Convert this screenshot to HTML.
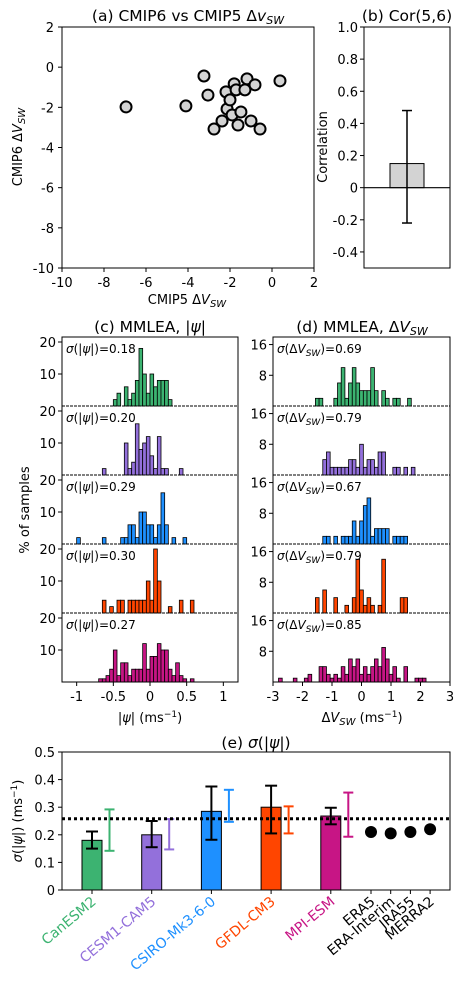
<!DOCTYPE html>
<html><head><meta charset="utf-8"><style>
html,body{margin:0;padding:0;background:#fff;}
svg{display:block;font-family:"DejaVu Sans","Liberation Sans",sans-serif;}
</style></head><body>
<svg id="fig" width="461" height="983" viewBox="0 0 461 983" xmlns="http://www.w3.org/2000/svg"></svg>
<script>
// ---------- DATA ----------
const scatterX = [-6.95,-4.1,-3.24,-3.05,-2.76,-2.38,-2.19,-2.14,-2.0,-1.9,-1.8,-1.71,-1.62,-1.48,-1.29,-1.19,-1.0,-0.81,-0.57,0.38];
const scatterY = [-1.98,-1.93,-0.44,-1.39,-3.08,-2.68,-1.23,-2.08,-1.63,-2.38,-0.83,-1.13,-2.88,-2.23,-1.13,-0.58,-2.68,-0.88,-3.08,-0.68];
const corrValue = 0.15;
const corrErrLow = -0.22;
const corrErrHigh = 0.48;

const modelNames = ["CanESM2","CESM1-CAM5","CSIRO-Mk3-6-0","GFDL-CM3","MPI-ESM"];
const sigmaPsi = [0.18,0.20,0.29,0.30,0.27];
const sigmaDV = [0.69,0.79,0.67,0.79,0.85];
const barValues = [0.18,0.20,0.285,0.30,0.268];
const barErrLow = [0.15,0.155,0.182,0.205,0.238];
const barErrHigh = [0.212,0.25,0.375,0.378,0.298];
const sideErrLow = [0.142,0.147,0.247,0.205,0.193];
const sideErrHigh = [0.292,0.257,0.363,0.303,0.353];
const reanNames = ["ERA5","ERA-Interim","JRA55","MERRA2"];
const reanValues = [0.21,0.205,0.21,0.22];
const refLine = 0.258;

// histograms: centers and percentages
const psiCenters = [
 [-0.475,-0.425,-0.375,-0.325,-0.275,-0.225,-0.175,-0.125,-0.075,-0.025,0.025,0.075,0.125,0.175,0.225,0.275,0.325],
 [-0.625,-0.325,-0.275,-0.225,-0.175,-0.125,-0.075,-0.025,0.025,0.075,0.125,0.175,0.225,0.425],
 [-0.975,-0.625,-0.375,-0.325,-0.275,-0.225,-0.175,-0.125,-0.075,-0.025,0.025,0.075,0.125,0.175,0.225,0.325,0.475],
 [-0.625,-0.525,-0.425,-0.375,-0.275,-0.225,-0.175,-0.125,-0.075,-0.025,0.025,0.075,0.125,0.275,0.425,0.575],
 [-0.675,-0.625,-0.575,-0.525,-0.475,-0.425,-0.375,-0.325,-0.275,-0.225,-0.175,-0.125,-0.075,-0.025,0.025,0.075,0.125,0.175,0.225,0.275,0.325,0.375,0.425,0.475,0.575]
];
const psiPercent = [
 [2,4,0,6,2,4,8,18,10,4,10,6,8,8,8,2,0],
 [2,10,2,4,16,8,10,12,6,2,12,2,2,2],
 [2,2,2,2,6,6,2,10,10,6,6,2,6,16,6,2,2],
 [4,2,4,4,4,4,4,4,4,10,4,20,10,2,4,4],
 [1,1,2,4,10,2,6,6,2,4,4,4,12,4,8,8,12,10,10,4,2,6,2,1,1]
];
const dvCenters = [
 [-1.5,-1.375,-0.875,-0.75,-0.625,-0.5,-0.375,-0.25,-0.125,0,0.125,0.25,0.375,0.5,0.75,0.875,1.125,1.25,1.375,1.625],
 [-1.25,-1.125,-1.0,-0.875,-0.75,-0.625,-0.5,-0.375,-0.25,-0.125,0,0.125,0.25,0.375,0.5,0.625,0.75,1.125,1.25,1.5,1.75],
 [-1.25,-1.125,-0.875,-0.625,-0.5,-0.375,-0.25,-0.125,0,0.125,0.25,0.375,0.5,0.625,0.75,0.875,1.125,1.25,1.375,1.5],
 [-1.5,-1.25,-0.875,-0.5,-0.25,-0.125,0,0.125,0.25,0.375,0.625,0.75,1.375,1.5],
 [-2.75,-2.25,-1.875,-1.75,-1.375,-1.25,-1.125,-1.0,-0.875,-0.75,-0.625,-0.5,-0.375,-0.25,-0.125,0,0.125,0.25,0.375,0.5,0.625,0.75,0.875,1.0,1.125,1.25,1.5,1.875,2.0,2.125]
];
const dvPercent = [
 [2,2,2,6,10,2,6,10,6,4,4,4,10,4,4,2,2,2,0,2],
 [4,6,2,2,2,2,2,4,4,2,8,2,4,4,2,6,6,2,2,2,2],
 [2,2,2,2,2,2,6,2,6,10,12,2,4,4,4,4,2,2,2,2],
 [4,6,4,2,4,14,6,2,4,2,2,14,4,4],
 [1,1,1,2,4,4,2,1,2,1,4,2,6,4,6,2,4,2,4,6,4,9,6,2,4,1,4,1,1,1]
];
const colors = ["#3cb371","#9370db","#1e90ff","#ff4500","#c71585"];

// ---------- HELPERS ----------
const svg = document.getElementById('fig');
const NS = "http://www.w3.org/2000/svg";
function mk(tag, attrs, parent){
  const e = document.createElementNS(NS, tag);
  for (const k in attrs) e.setAttribute(k, attrs[k]);
  (parent||svg).appendChild(e);
  return e;
}
function txt(s, x, y, size, anchor, parent, extra){
  const t = mk('text', Object.assign({x:x, y:y, 'font-size':size, 'text-anchor':anchor||'middle', fill:'#000'}, extra||{}), parent);
  t.innerHTML = s;
  return t;
}
function lin(d0,d1,p0,p1){ return v => p0 + (v-d0)*(p1-p0)/(d1-d0); }
const TS = 13, TT = 15.5, LS = 13;

// ---------- PANEL A ----------
const ax = lin(-10,2,62,314), ay = lin(2,-10,27,268);
let g = mk('g',{});


let t = txt('(a) CMIP6 vs CMIP5 Δ<tspan font-style="italic">v</tspan><tspan font-style="italic" font-size="11" dy="3">SW</tspan>',188,21,TT,'middle',g);


for (let v=-10; v<=2; v+=2){
  mk('line',{x1:ax(v),x2:ax(v),y1:268,y2:272,stroke:'#000'},g);
  txt(String(v),ax(v),287,TS,'middle',g);
  mk('line',{x1:58,x2:62,y1:ay(v),y2:ay(v),stroke:'#000'},g);
  txt(String(v),54,ay(v)+5,TS,'end',g);
}
t = txt('CMIP5 Δ<tspan font-style="italic">V</tspan><tspan font-style="italic" font-size="10" dy="3">SW</tspan>',187,304,LS,'middle',g);


t = txt('CMIP6 Δ<tspan font-style="italic">V</tspan><tspan font-style="italic" font-size="10" dy="3">SW</tspan>',0,0,LS,'middle',g,{transform:'translate(22,147) rotate(-90)'});


for (let i=0;i<scatterX.length;i++){
  const c = mk('circle',{cx:ax(scatterX[i]),cy:ay(scatterY[i]),r:5.5,fill:'#d3d3d3',stroke:'#000','stroke-width':2},g);
  
  
}
mk('rect',{x:62,y:27,width:252,height:241,fill:'none',stroke:'#000','stroke-width':1},g);

// ---------- PANEL B ----------
const by = lin(-0.5,1,268,27);
g = mk('g',{});


t = txt('(b) Cor(5,6)',407,21,TT,'middle',g);


for (let k=-2;k<=5;k++){
  const v = k*0.2;
  const lab = (Math.abs(v)<1e-9)?'0':v.toFixed(1);
  mk('line',{x1:360,x2:364,y1:by(v),y2:by(v),stroke:'#000'},g);
  txt(lab,358,by(v)+5,TS,'end',g);
}
t = txt('Correlation',0,0,LS,'middle',g,{transform:'translate(327,147) rotate(-90)'});


let r = mk('rect',{x:390,y:by(corrValue),width:34,height:by(0)-by(corrValue),fill:'#d3d3d3',stroke:'#000'},g);


mk('line',{x1:364,x2:450,y1:by(0),y2:by(0),stroke:'#000','stroke-width':1.2},g);
mk('line',{x1:407,x2:407,y1:by(corrErrLow),y2:by(corrErrHigh),stroke:'#000','stroke-width':1.5},g);
mk('line',{x1:402,x2:412,y1:by(corrErrLow),y2:by(corrErrLow),stroke:'#000','stroke-width':1.5},g);
mk('line',{x1:402,x2:412,y1:by(corrErrHigh),y2:by(corrErrHigh),stroke:'#000','stroke-width':1.5},g);
mk('rect',{x:364,y:27,width:86,height:241,fill:'none',stroke:'#000'},g);

// ---------- PANELS C & D ----------
const subTop = 337, subH = 69;
const cx = lin(-1.2,1.2,62,238), dx = lin(-3,3,273,450);
function histPanel(name, xs, x0, x1, centers, pct, bw, yPerPct, ticks, sigmas, labelFn){
  const gp = mk('g',{});
  
  
  for (let m=0;m<5;m++){
    const base = subTop + subH*(m+1);
    for (let i=0;i<centers[m].length;i++){
      if (pct[m][i]<=0) continue;
      const h = pct[m][i]*yPerPct;
      const b = mk('rect',{x:xs(centers[m][i]-bw/2),y:base-h,width:xs(bw)-xs(0),height:h,fill:colors[m],stroke:'#000','stroke-width':0.8},gp);
      
      
    }
    for (const tv of ticks){
      mk('line',{x1:x0-4,x2:x0,y1:base-tv*yPerPct,y2:base-tv*yPerPct,stroke:'#000'},gp);
      txt(String(tv),x0-6,base-tv*yPerPct+5,TS,'end',gp);
    }
    mk('line',{x1:x0,x2:x1,y1:base,y2:base,stroke:'#000','stroke-width':1,'stroke-dasharray':m<4?'3,1':'none'},gp);
    const lt = txt(labelFn(sigmas[m]), x0+4, base-subH+16, 12, 'start', gp);
    
    
  }
  mk('rect',{x:x0,y:subTop,width:x1-x0,height:subH*5,fill:'none',stroke:'#000'},gp);
  return gp;
}
const gc = histPanel('panel-c-psi-histograms', cx, 62, 238, psiCenters, psiPercent, 0.05, 3.2, [10,20], sigmaPsi,
  s => '<tspan font-style="italic">σ</tspan>(|<tspan font-style="italic">ψ</tspan>|)='+s.toFixed(2));
const gd = histPanel('panel-d-dv-histograms', dx, 273, 450, dvCenters, dvPercent, 0.125, 3.84, [8,16], sigmaDV,
  s => '<tspan font-style="italic">σ</tspan>(Δ<tspan font-style="italic">V</tspan><tspan font-style="italic" font-size="9" dy="3">SW</tspan><tspan dy="-3">)='+s.toFixed(2)+'</tspan>');
const cTicks = [-1,-0.5,0,0.5,1];
for (const v of cTicks){
  mk('line',{x1:cx(v),x2:cx(v),y1:682,y2:686,stroke:'#000'},gc);
  txt(String(v),cx(v),701,TS,'middle',gc);
}
const dTicks = [-3,-2,-1,0,1,2,3];
for (const v of dTicks){
  mk('line',{x1:dx(v),x2:dx(v),y1:682,y2:686,stroke:'#000'},gd);
  txt(String(v),dx(v),701,TS,'middle',gd);
}
t = txt('(c) MMLEA, |<tspan font-style="italic">ψ</tspan>|',150,332,TT,'middle',gc);


t = txt('(d) MMLEA, Δ<tspan font-style="italic">V</tspan><tspan font-style="italic" font-size="11" dy="3">SW</tspan>',362,332,TT,'middle',gd);


t = txt('|<tspan font-style="italic">ψ</tspan>| (ms<tspan font-size="9" dy="-5">−1</tspan><tspan dy="5">)</tspan>',150,722,LS,'middle',gc);


t = txt('Δ<tspan font-style="italic">V</tspan><tspan font-style="italic" font-size="10" dy="3">SW</tspan><tspan dy="-3"> (ms</tspan><tspan font-size="9" dy="-5">−1</tspan><tspan dy="5">)</tspan>',362,722,LS,'middle',gd);


t = txt('% of samples',0,0,LS,'middle',svg,{transform:'translate(29,510) rotate(-90)'});



// ---------- PANEL E ----------
const ey = lin(0,0.5,890,752);
const modelX = i => 92 + 59.7*i;
const reanX = j => 371 + 19.7*j;
g = mk('g',{});


t = txt('(e) <tspan font-style="italic">σ</tspan>(|<tspan font-style="italic">ψ</tspan>|)',256,748,TT,'middle',g);


for (let k=0;k<=5;k++){
  const v=k*0.1;
  mk('line',{x1:58,x2:62,y1:ey(v),y2:ey(v),stroke:'#000'},g);
  txt(k===0?'0':v.toFixed(1),55,ey(v)+5,TS,'end',g);
}
t = txt('<tspan font-style="italic">σ</tspan>(|<tspan font-style="italic">ψ</tspan>|) (ms<tspan font-size="9" dy="-5">−1</tspan><tspan dy="5">)</tspan>',0,0,LS,'middle',g,{transform:'translate(22,821) rotate(-90)'});


function errbar(x, lo, hi, col, w, cap){
  mk('line',{x1:x,x2:x,y1:ey(lo),y2:ey(hi),stroke:col,'stroke-width':w},g);
  mk('line',{x1:x-cap,x2:x+cap,y1:ey(lo),y2:ey(lo),stroke:col,'stroke-width':w},g);
  mk('line',{x1:x-cap,x2:x+cap,y1:ey(hi),y2:ey(hi),stroke:col,'stroke-width':w},g);
}
for (let i=0;i<modelNames.length;i++){
  const x = modelX(i);
  const b = mk('rect',{x:x-10,y:ey(barValues[i]),width:20,height:ey(0)-ey(barValues[i]),fill:colors[i],stroke:'#000'},g);
  
  
  errbar(x, barErrLow[i], barErrHigh[i], '#000', 2, 6);
  errbar(x+17.5, sideErrLow[i], sideErrHigh[i], colors[i], 2, 5);
  mk('line',{x1:x,x2:x,y1:890,y2:894,stroke:'#000'},g);
  const lt = txt(modelNames[i],0,0,14,'end',g,{fill:colors[i],transform:'translate('+(x+5)+',903) rotate(-40)'});
  
  
}
for (let j=0;j<reanNames.length;j++){
  const x = reanX(j);
  const c = mk('circle',{cx:x,cy:ey(reanValues[j]),r:6,fill:'#000'},g);
  
  
  mk('line',{x1:x,x2:x,y1:890,y2:894,stroke:'#000'},g);
  const lt = txt(reanNames[j],0,0,14,'end',g,{transform:'translate('+(x+5)+',903) rotate(-40)'});
  
  
}
const rl = mk('line',{x1:62,x2:450,y1:ey(refLine),y2:ey(refLine),stroke:'#000','stroke-width':3,'stroke-dasharray':'3,3'},g);


mk('rect',{x:62,y:752,width:388,height:138,fill:'none',stroke:'#000'},g);
</script>
</body></html>
